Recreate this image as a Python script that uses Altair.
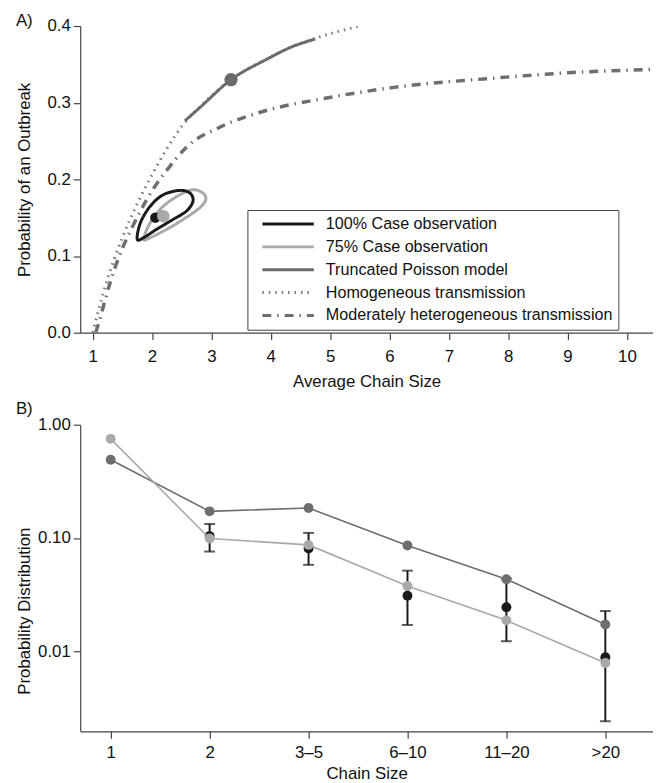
import altair as alt
import pandas as pd

FONT = "Liberation Sans"
FS = 17

# ---------------- Panel A data ----------------
series_names = ["100% Case observation", "75% Case observation", "Truncated Poisson model",
                "Homogeneous transmission", "Moderately heterogeneous transmission"]
series_colors = ["#1a1a1a", "#a9a9a9", "#6b6b6b", "#777777", "#6e6e6e"]
series_dash = [[1, 0], [1, 0], [1, 0], [1.5, 5], [9, 6, 1.5, 6]]

hom_x = [1.0, 1.1, 1.25, 1.5, 1.75, 2.0, 2.25, 2.5, 2.8, 3.33, 3.9, 4.36, 4.75, 5.14, 5.5]
hom_y = [0.0, 0.03, 0.07, 0.124, 0.168, 0.206, 0.24, 0.269, 0.294, 0.330, 0.356, 0.373, 0.384, 0.393, 0.400]

het_x = [1.05, 1.1, 1.2, 1.3, 1.4, 1.5, 1.65, 1.8, 2.0, 2.25, 2.58, 3.14, 3.8, 4.97, 6.08, 7.75, 9.14, 10.44]
het_y = [0.0, 0.012, 0.04, 0.067, 0.09, 0.11, 0.135, 0.158, 0.185, 0.212, 0.242, 0.268, 0.287, 0.3065, 0.320, 0.332, 0.3396, 0.3435]

tp_x = [2.555, 2.805, 3.33, 3.917, 4.36, 4.75]
tp_y = [0.2765, 0.2936, 0.330, 0.356, 0.373, 0.383]

obs100_x = [1.75, 1.805, 1.97, 2.19, 2.47, 2.64, 2.69, 2.58, 2.36, 2.08, 1.86]
obs100_y = [0.122, 0.1436, 0.165, 0.180, 0.1856, 0.182, 0.1715, 0.1586, 0.148, 0.135, 0.124]

obs75_x = [1.86, 1.97, 2.19, 2.47, 2.69, 2.86, 2.905, 2.805, 2.53, 2.25, 1.97]
obs75_y = [0.122, 0.1436, 0.165, 0.180, 0.1865, 0.182, 0.1736, 0.163, 0.148, 0.135, 0.124]

tp_point = (3.33, 0.330)
obs100_point = (2.055, 0.150)
obs75_point = (2.19, 0.152)

# ---------------- Panel B data ----------------
chain_sizes = ["1", "2", "3\u20135", "6\u201310", "11\u201320", ">20"]
model_p = [0.49, 0.172, 0.184, 0.086, 0.0434, 0.0173]
obs75_p = [0.75, 0.099, 0.087, 0.0377, 0.0188, 0.0079]
obs100_p = [None, 0.104, 0.081, 0.031, 0.0245, 0.0089]
obs100_lo = [None, 0.076, 0.058, 0.0171, 0.0123, 0.00242]
obs100_hi = [None, 0.133, 0.111, 0.0516, 0.044, 0.0227]


def curve(name, xs, ys):
    return pd.DataFrame({"x": xs, "y": ys, "series": name, "i": list(range(len(xs)))})


xA = alt.X("x:Q", scale=alt.Scale(domain=[0.79, 10.44], nice=False, zero=False),
           axis=alt.Axis(values=list(range(1, 11)), title="Average Chain Size",
                         labelPadding=9, titlePadding=9))
yA = alt.Y("y:Q", scale=alt.Scale(domain=[0, 0.4], nice=False),
           axis=alt.Axis(values=[0, 0.1, 0.2, 0.3, 0.4], format=".1f",
                         title="Probability of an Outbreak"))

color_enc = alt.Color("series:N", scale=alt.Scale(domain=series_names, range=series_colors),
                      legend=alt.Legend(title=None, orient="none", legendX=169, legendY=186,
                                        symbolType="M-5.2,0H5.2", symbolSize=100,
                                        symbolStrokeWidth=3, symbolOffset=27, labelOffset=30,
                                        labelFontSize=16.3, labelFont=FONT, labelColor="#111",
                                        labelExpr="datum.label + '\u00a0\u00a0\u00a0\u00a0\u00a0'",
                                        labelLimit=400, rowPadding=6.1, padding=6,
                                        strokeColor="#444", fillColor="white",
                                        symbolFillColor="transparent"))
dash_enc = alt.StrokeDash("series:N", scale=alt.Scale(domain=series_names, range=series_dash),
                          legend=None)


def line_layer(df, width=3, interp="monotone"):
    return alt.Chart(df).mark_line(strokeWidth=width, clip=True, interpolate=interp).encode(
        x=xA, y=yA, color=color_enc, strokeDash=dash_enc, order="i:Q")


het_layer = line_layer(curve(series_names[4], het_x, het_y), 3.5)
hom_layer = line_layer(curve(series_names[3], hom_x, hom_y), 3)
tp_layer = line_layer(curve(series_names[2], tp_x, tp_y), 3)
c100_layer = line_layer(curve(series_names[0], obs100_x, obs100_y), 3, "cardinal-closed")
c75_layer = line_layer(curve(series_names[1], obs75_x, obs75_y), 3, "cardinal-closed")


def pt_layer(pt, color, size):
    df = pd.DataFrame({"x": [pt[0]], "y": [pt[1]]})
    return alt.Chart(df).mark_circle(color=color, size=size, opacity=1).encode(x=xA, y=yA)


top = alt.layer(
    het_layer, hom_layer, tp_layer, c75_layer, c100_layer,
    pt_layer(tp_point, "#6b6b6b", 180),
    pt_layer(obs100_point, "#1a1a1a", 110),
    pt_layer(obs75_point, "#a9a9a9", 160),
).properties(width=579, height=310,
             title=alt.TitleParams("A)", anchor="start", frame="bounds", fontSize=17,
                                   font=FONT, fontWeight="normal", color="#111", offset=-13))

# ---------------- Panel B ----------------
dfB = pd.DataFrame({"cat": chain_sizes, "model": model_p, "obs75": obs75_p,
                    "obs100": obs100_p, "lo": obs100_lo, "hi": obs100_hi,
                    "i": list(range(len(chain_sizes)))})

xB = alt.X("cat:N", sort=chain_sizes,
           scale=alt.Scale(type="point", padding=0.395, align=0.39),
           axis=alt.Axis(labelAngle=0, title="Chain Size", labelPadding=6, titlePadding=6))


def yB(field):
    return alt.Y(f"{field}:Q", scale=alt.Scale(type="log", domain=[0.00197, 1], nice=False),
                 axis=alt.Axis(values=[1, 0.1, 0.01], format=".2f",
                               title="Probability Distribution", titleY=188))


baseB = alt.Chart(dfB)
err_rule = baseB.mark_rule(color="#1a1a1a", strokeWidth=2).encode(x=xB, y=yB("lo"), y2="hi:Q")
err_lo = baseB.mark_tick(color="#1a1a1a", size=11, thickness=2).encode(x=xB, y=yB("lo"))
err_hi = baseB.mark_tick(color="#1a1a1a", size=11, thickness=2).encode(x=xB, y=yB("hi"))
pts100 = baseB.mark_circle(color="#1a1a1a", size=100, opacity=1).encode(x=xB, y=yB("obs100"))
line_model = baseB.mark_line(color="#6e6e6e", strokeWidth=1.6).encode(x=xB, y=yB("model"), order="i:Q")
pts_model = baseB.mark_circle(color="#6e6e6e", size=100, opacity=1).encode(x=xB, y=yB("model"))
line75 = baseB.mark_line(color="#a9a9a9", strokeWidth=1.6).encode(x=xB, y=yB("obs75"), order="i:Q")
pts75 = baseB.mark_circle(color="#a9a9a9", size=100, opacity=1).encode(x=xB, y=yB("obs75"))

bottom = alt.layer(err_rule, err_lo, err_hi, pts100, line_model, pts_model, line75, pts75
                   ).properties(width=579, height=310,
                                title=alt.TitleParams("B)", anchor="start", frame="bounds",
                                                      fontSize=17, font=FONT, fontWeight="normal",
                                                      color="#111", offset=-2))

chart = alt.vconcat(top, bottom, spacing=11).properties(
    padding={"left": 8, "top": 0, "right": 0, "bottom": 0}
).configure_view(stroke=None).configure_axis(
    domainColor="#444", domainWidth=1.2, tickColor="#444", tickWidth=1.2, tickSize=7,
    labelFont=FONT, labelFontSize=FS, labelColor="#111", titleFont=FONT, titleFontSize=FS,
    titleColor="#111", titleFontWeight="normal", grid=False
).configure_axisY(minExtent=44, maxExtent=44, titlePadding=3, labelPadding=3)

chart.save("out.html", embed_options={"renderer": "svg", "actions": False})
